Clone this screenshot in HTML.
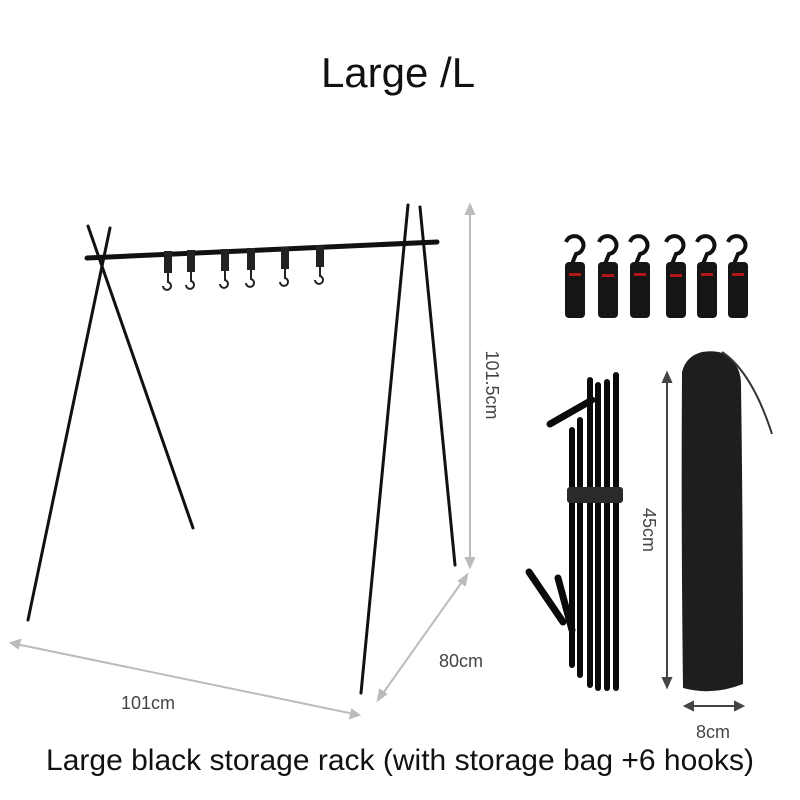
<!DOCTYPE html>
<html><head><meta charset="utf-8"><style>
html,body{margin:0;padding:0;background:#fff;}
svg{display:block}
</style></head><body>
<svg width="800" height="800" viewBox="0 0 800 800" xmlns="http://www.w3.org/2000/svg">
<rect width="800" height="800" fill="#fff"/>
<text x="398" y="87" text-anchor="middle" font-family="Liberation Sans, sans-serif" font-size="42" fill="#111">Large /L</text>
<!-- rack -->
<g stroke="#111" stroke-linecap="round">
<line x1="87" y1="258" x2="437" y2="242" stroke-width="5"/>
<line x1="88" y1="226" x2="193" y2="528" stroke-width="3"/>
<line x1="110" y1="228" x2="28" y2="620" stroke-width="3"/>
<line x1="408" y1="205" x2="361" y2="693" stroke-width="3"/>
<line x1="420" y1="207" x2="455" y2="565" stroke-width="3"/>
</g>
<g fill="none" stroke="#222" stroke-width="2">
<g transform="translate(168,252)"><rect x="-3" y="0" width="6" height="20" fill="#222"/><path d="M0 20 v10 a4 4 0 1 1 -5 4"/></g>
<g transform="translate(191,251)"><rect x="-3" y="0" width="6" height="20" fill="#222"/><path d="M0 20 v10 a4 4 0 1 1 -5 4"/></g>
<g transform="translate(225,250)"><rect x="-3" y="0" width="6" height="20" fill="#222"/><path d="M0 20 v10 a4 4 0 1 1 -5 4"/></g>
<g transform="translate(251,249)"><rect x="-3" y="0" width="6" height="20" fill="#222"/><path d="M0 20 v10 a4 4 0 1 1 -5 4"/></g>
<g transform="translate(285,248)"><rect x="-3" y="0" width="6" height="20" fill="#222"/><path d="M0 20 v10 a4 4 0 1 1 -5 4"/></g>
<g transform="translate(320,246)"><rect x="-3" y="0" width="6" height="20" fill="#222"/><path d="M0 20 v10 a4 4 0 1 1 -5 4"/></g>
</g>
<!-- dims -->
<g stroke="#bbb" stroke-width="2" fill="#bbb">
<line x1="470" y1="210" x2="470" y2="562"/>
<polygon points="470,205 466,214 474,214"/><polygon points="470,567 466,558 474,558"/>
<line x1="16" y1="644" x2="354" y2="714"/>
<polygon points="11,643 20,640 18,648"/><polygon points="359,715 350,718 352,710"/>
<line x1="464" y1="579" x2="381" y2="696"/>
<polygon points="467,575 465,585 459,581"/><polygon points="378,700 380,690 386,694"/>
</g>
<g stroke="#444" stroke-width="2" fill="#444">
<line x1="667" y1="378" x2="667" y2="682"/>
<polygon points="667,373 663,382 671,382"/><polygon points="667,687 663,678 671,678"/>
<line x1="690" y1="706" x2="738" y2="706"/>
<polygon points="685,706 693,702 693,710"/><polygon points="743,706 735,702 735,710"/>
</g>
<g font-family="Liberation Sans, sans-serif" font-size="18" fill="#444">
<text x="148" y="709" text-anchor="middle">101cm</text>
<text x="461" y="667" text-anchor="middle">80cm</text>
<text x="713" y="738" text-anchor="middle">8cm</text>
<text transform="translate(486,385) rotate(90)" text-anchor="middle">101.5cm</text>
<text transform="translate(643,530) rotate(90)" text-anchor="middle">45cm</text>
</g>
<!-- hooks group -->
<g>
<g fill="none" stroke="#111" stroke-width="4">
<path d="M566 242 a9 9 0 1 1 10 12 l-4 10"/><path d="M599 242 a9 9 0 1 1 10 12 l-4 10"/>
<path d="M630 242 a9 9 0 1 1 10 12 l-4 10"/><path d="M666 242 a9 9 0 1 1 10 12 l-4 10"/>
<path d="M697 242 a9 9 0 1 1 10 12 l-4 10"/><path d="M728 242 a9 9 0 1 1 10 12 l-4 10"/>
</g>
<g fill="#151515">
<rect x="565" y="262" width="20" height="56" rx="4"/><rect x="598" y="262" width="20" height="56" rx="4"/>
<rect x="630" y="262" width="20" height="56" rx="4"/><rect x="666" y="262" width="20" height="56" rx="4"/>
<rect x="697" y="262" width="20" height="56" rx="4"/><rect x="728" y="262" width="20" height="56" rx="4"/>
</g>
<g fill="#b01818">
<rect x="569" y="273" width="12" height="3"/><rect x="602" y="274" width="12" height="3"/>
<rect x="634" y="273" width="12" height="3"/><rect x="670" y="274" width="12" height="3"/>
<rect x="701" y="273" width="12" height="3"/><rect x="732" y="273" width="12" height="3"/>
</g>
</g>
<!-- folded poles -->
<g stroke="#0a0a0a" stroke-linecap="round">
<line x1="572" y1="430" x2="572" y2="665" stroke-width="6"/>
<line x1="580" y1="420" x2="580" y2="675" stroke-width="6"/>
<line x1="590" y1="380" x2="590" y2="685" stroke-width="6"/>
<line x1="598" y1="385" x2="598" y2="688" stroke-width="6"/>
<line x1="607" y1="382" x2="607" y2="688" stroke-width="6"/>
<line x1="616" y1="375" x2="616" y2="688" stroke-width="6"/>
<line x1="550" y1="424" x2="592" y2="400" stroke-width="7"/>
<line x1="529" y1="572" x2="563" y2="622" stroke-width="7"/>
<line x1="558" y1="578" x2="572" y2="630" stroke-width="7"/>
</g>
<rect x="567" y="487" width="56" height="16" rx="3" fill="#2a2a2a"/>
<!-- bag -->
<path d="M682 372 q4 -16 20 -20 q24 -4 33 12 q6 8 6 20 q2 140 2 300 q-30 12 -60 4 q-2 -160 -1 -316 z" fill="#1e1e1e"/>
<path d="M722 352 q30 20 50 82" fill="none" stroke="#333" stroke-width="2"/>
<text x="400" y="770" text-anchor="middle" font-family="Liberation Sans, sans-serif" font-size="30" fill="#111">Large black storage rack (with storage bag +6 hooks)</text>
</svg>
</body></html>
